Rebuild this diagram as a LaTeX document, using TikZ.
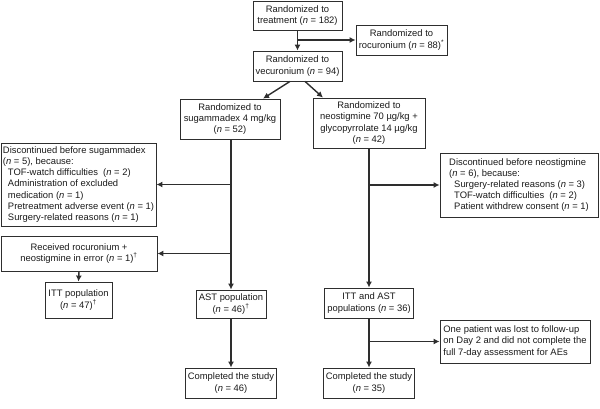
\documentclass[tikz,border=0pt]{standalone}
\usepackage{fontspec}
\setmainfont{Liberation Sans}
\usetikzlibrary{arrows.meta}
\definecolor{ln}{HTML}{2E2E2E}
\definecolor{tx}{HTML}{1A1A1A}
\newcommand{\nvar}{\textit{n}}
\newcommand{\ind}{\hspace*{5pt}}
\begin{document}
\begin{tikzpicture}[x=1pt,y=-1pt,
 box/.style={draw=ln, line width=0.8pt, inner sep=2pt, font=\fontsize{9.4}{11.2}\selectfont, text=tx, align=center},
 lbox/.style={box, align=left},
 conn/.style={draw=ln, line width=1.4pt},
 arr/.style={conn, -{Latex[length=6pt,width=6pt]}}]
\useasboundingbox (0,0) rectangle (600,409);

\node[box, minimum width=89pt, minimum height=29pt] (treat) at (297.5,15.5) {Randomized to\\treatment (\nvar{} = 182)};
\node[box, minimum width=91pt, minimum height=30pt] (rocu) at (401.5,40) {Randomized to\\rocuronium (\nvar{} = 88)\textsuperscript{*}};
\node[box, minimum width=89pt, minimum height=30pt] (vecu) at (297.5,66) {Randomized to\\vecuronium (\nvar{} = 94)};
\node[box, minimum width=100pt, minimum height=40pt] (suga) at (230,119) {Randomized to\\sugammadex 4 mg/kg\\(\nvar{} = 52)};
\node[box, minimum width=112pt, minimum height=50pt] (neo) at (369,123) {Randomized to\\neostigmine 70 µg/kg +\\glycopyrrolate 14 µg/kg\\(\nvar{} = 42)};
\node[lbox, minimum width=155pt, minimum height=83pt] (discS) at (78.5,184.5) {Discontinued before sugammadex\\(\nvar{} = 5), because:\\\ind TOF-watch difficulties\ \ (\nvar{} = 2)\\\ind Administration of excluded\\\ind medication (\nvar{} = 1)\\\ind Pretreatment adverse event (\nvar{} = 1)\\\ind Surgery-related reasons (\nvar{} = 1)};
\node[lbox, minimum width=158pt, minimum height=64pt] (discN) at (519,185) {Discontinued before neostigmine\\(\nvar{} = 6), because:\\\ind Surgery-related reasons (\nvar{} = 3)\\\ind TOF-watch difficulties\ \ (\nvar{} = 2)\\\ind Patient withdrew consent (\nvar{} = 1)};
\node[box, minimum width=156pt, minimum height=35pt] (recv) at (79,253.5) {Received rocuronium +\\neostigmine in error (\nvar{} = 1)\textsuperscript{†}};
\node[box, minimum width=67pt, minimum height=36pt] (itt) at (78.5,300) {ITT population\\(\nvar{} = 47)\textsuperscript{†}};
\node[box, minimum width=70pt, minimum height=28pt] (ast) at (231,304) {AST population\\(\nvar{} = 46)\textsuperscript{†}};
\node[box, minimum width=89pt, minimum height=30pt] (ittast) at (369,303) {ITT and AST\\populations (\nvar{} = 36)};
\node[lbox, minimum width=150pt, minimum height=43pt] (lost) at (515,341.5) {One patient was lost to follow-up\\on Day 2 and did not complete the\\full 7-day assessment for AEs};
\node[box, minimum width=89pt, minimum height=30pt] (compS) at (231,383) {Completed the study\\(\nvar{} = 46)};
\node[box, minimum width=90pt, minimum height=30pt] (compN) at (369,383) {Completed the study\\(\nvar{} = 35)};

% connectors
\draw[arr] (treat.south) -- (vecu.north);
\draw[arr] (treat.south |- rocu.west) -- (rocu.west);
\draw[arr] ([xshift=-7.5pt]vecu.south) -- ([xshift=33pt]suga.north);
\draw[arr] ([xshift=7.5pt]vecu.south) -- ([xshift=-46pt]neo.north);

\draw[arr] (suga.south -| ast.north) -- (ast.north);
\draw[arr] (ast.north |- discS.east) -- (discS.east);
\draw[arr] (ast.north |- recv.east) -- (recv.east);
\draw[arr] (recv.south) -- (itt.north);
\draw[arr] (ast.south) -- (compS.north);

\draw[arr] (neo.south) -- (ittast.north);
\draw[arr] (neo.south |- discN.west) -- (discN.west);
\draw[arr] (ittast.south) -- (compN.north);
\draw[arr] (ittast.south |- lost.west) -- (lost.west);
\end{tikzpicture}
\end{document}
